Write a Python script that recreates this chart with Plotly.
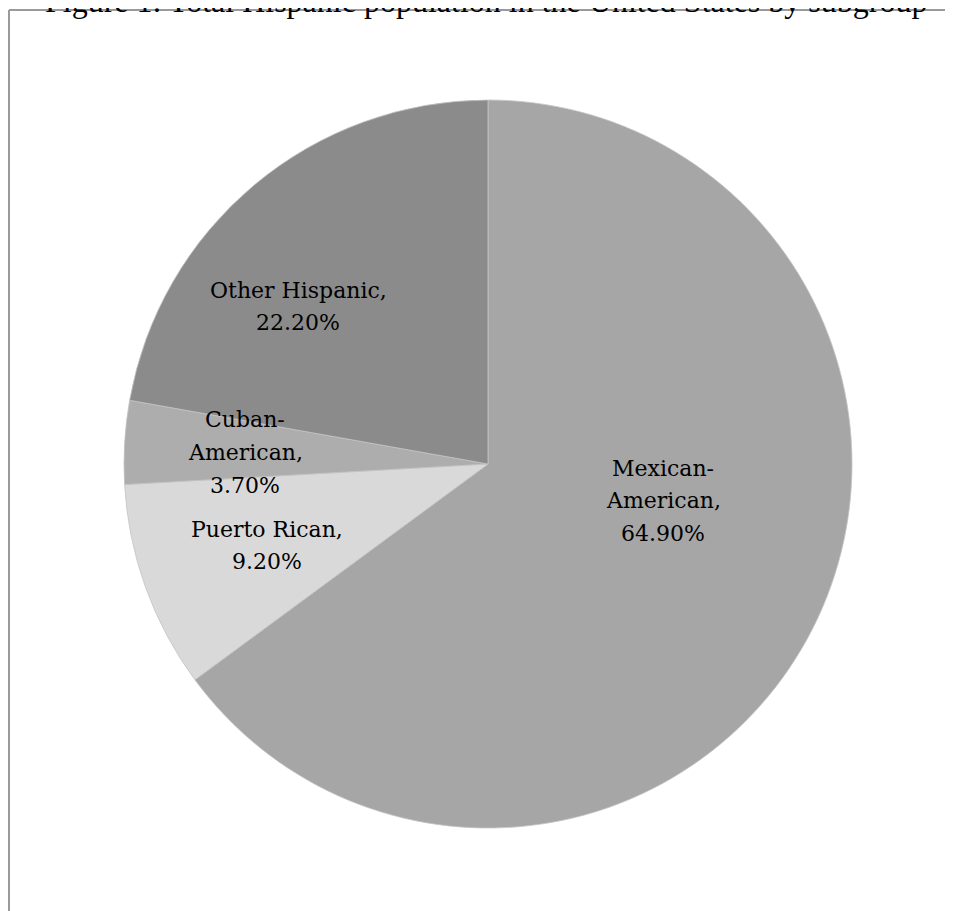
import plotly.graph_objects as go

# Data
categories = ["Mexican-American", "Puerto Rican", "Cuban-American", "Other Hispanic"]
values = [64.9, 9.2, 3.7, 22.2]
label_lines = [["Mexican-", "American,", "64.90%"],
               ["Puerto Rican,", "9.20%"],
               ["Cuban-", "American,", "3.70%"],
               ["Other Hispanic,", "22.20%"]]
title_text = "Figure 1: Total Hispanic population in the United States by subgroup"

# Styling / layout (page pixels; the page has an 8px body margin)
colors = ["#a6a6a6", "#d9d9d9", "#adadad", "#8b8b8b"]
label_pos = [(663, 476), (267, 537), (245, 428), (298, 298)]  # x center, first baseline
LINE_STEP = 32.5
OFF = 8
W, H = 953 - OFF, 911 - OFF


def px(x):
    return (x - OFF) / W


def py(y):
    return 1 - (y - OFF) / H


fig = go.Figure(go.Pie(
    labels=categories,
    values=values,
    sort=False,
    direction="clockwise",
    rotation=0,
    textinfo="none",
    hoverinfo="label+percent",
    marker=dict(colors=colors, line=dict(color="#c4c4c4", width=0.8)),
    domain=dict(x=[px(124), px(852)], y=[py(828), py(100)]),
    showlegend=False,
))

annotations = []
for lines, (cx, base) in zip(label_lines, label_pos):
    for i, line in enumerate(lines):
        annotations.append(dict(
            x=px(cx), y=py(base + i * LINE_STEP - 8), xref="paper", yref="paper",
            text=line, showarrow=False, xanchor="center", yanchor="middle",
            font=dict(family="DejaVu Serif", size=22, color="black"),
        ))
annotations.append(dict(
    x=px(486), y=py(1), xref="paper", yref="paper",
    text=title_text, showarrow=False, xanchor="center", yanchor="middle",
    font=dict(family="Liberation Serif", size=32, color="black"),
))

shapes = [
    dict(type="line", xref="paper", yref="paper", x0=px(9), x1=px(9),
         y0=0, y1=py(10), line=dict(color="#9a9a9a", width=2)),
    dict(type="line", xref="paper", yref="paper", x0=px(9), x1=1,
         y0=py(10), y1=py(10), line=dict(color="#9a9a9a", width=2)),
]

fig.update_layout(
    width=W, height=H,
    margin=dict(l=0, r=0, t=0, b=0),
    paper_bgcolor="white", plot_bgcolor="white",
    annotations=annotations, shapes=shapes,
)

fig.write_html("out.html")
